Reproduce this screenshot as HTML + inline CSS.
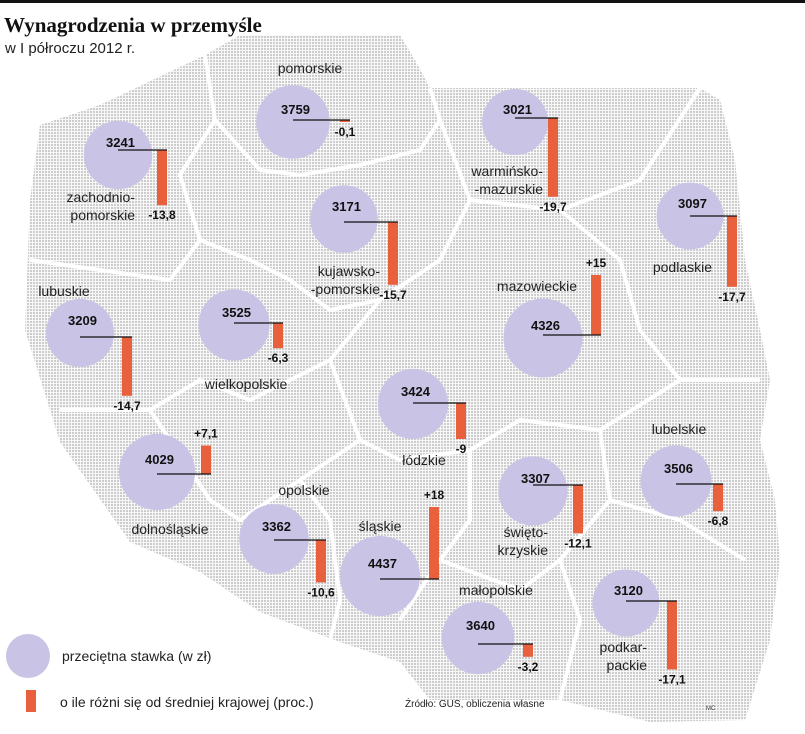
<!DOCTYPE html>
<html><head><meta charset="utf-8"><style>
body{margin:0;background:#fff;}
svg{display:block;font-family:"Liberation Sans","DejaVu Sans",sans-serif;}
</style></head><body>
<svg id="chart" width="805" height="734" viewBox="0 0 805 734">
<defs>
<pattern id="dots" width="3" height="3" patternUnits="userSpaceOnUse"><rect width="3" height="3" fill="#f7f7f7"/><rect width="2" height="2" fill="#cdcdcd"/></pattern>
</defs>
<rect x="0" y="0" width="805" height="3" fill="#111"/>
<text x="4" y="32" font-family="Liberation Serif,serif" font-weight="bold" font-size="21" fill="#111">Wynagrodzenia w przemyśle</text>
<text x="5" y="53" font-size="15" fill="#222">w I półroczu 2012 r.</text>
<polygon fill="url(#dots)" points="40,125 100,105 205,55 240,35 400,35 415,60 430,88 700,88 720,100 735,160 745,260 760,330 770,380 760,440 775,500 780,560 770,640 745,720 650,722 560,700 430,700 400,662 340,642 260,612 200,572 130,542 60,442 25,330 30,200"/>
<g stroke="#fff" stroke-width="4" fill="none">
<polyline points="205,55 215,120 180,175 200,240 170,280"/>
<polyline points="215,120 260,170 300,175 360,165 420,150 440,120 430,88"/>
<polyline points="440,120 470,200 560,210 640,180 700,88"/>
<polyline points="470,200 440,260 380,300 330,310 290,280 250,260 200,240"/>
<polyline points="30,260 100,270 170,280"/>
<polyline points="60,410 150,410 200,380 250,400 330,360 380,300"/>
<polyline points="560,210 620,260 640,330 680,380 760,380"/>
<polyline points="330,360 360,440 400,460 470,450 520,420 600,430 680,380"/>
<polyline points="150,410 210,500 240,520 300,480 360,440"/>
<polyline points="300,480 330,520 340,600 330,640"/>
<polyline points="470,450 470,520 440,560 400,620"/>
<polyline points="600,430 610,500 560,560 520,590 440,560"/>
<polyline points="610,500 680,520 745,560"/>
<polyline points="560,560 580,620 560,700"/>
</g>
<g id="marks"></g>
<circle cx="28" cy="656" r="22" fill="#c9c3e6"/>
<text x="62" y="661" font-size="14" fill="#222">przeciętna stawka (w zł)</text>
<rect x="26" y="690" width="10" height="22" fill="#e8603c"/>
<text x="60" y="707" font-size="14" fill="#222">o ile różni się od średniej krajowej (proc.)</text>
<text x="405" y="707" font-size="10" fill="#222">Źródło: GUS, obliczenia własne</text>
<text x="706" y="710" font-size="6" fill="#444">MC</text>
</svg>
<script>
const regions=["zachodniopomorskie","pomorskie","warmińsko-mazurskie","podlaskie","kujawsko-pomorskie","mazowieckie","lubuskie","wielkopolskie","łódzkie","dolnośląskie","opolskie","śląskie","świętokrzyskie","lubelskie","małopolskie","podkarpackie"];
const wages=[3241,3759,3021,3097,3171,4326,3209,3525,3424,4029,3362,4437,3307,3506,3640,3120];
const diffs=[-13.8,-0.1,-19.7,-17.7,-15.7,15,-14.7,-6.3,-9,7.1,-10.6,18,-12.1,-6.8,-3.2,-17.1];
const diffLabels=["-13,8","-0,1","-19,7","-17,7","-15,7","+15","-14,7","-6,3","-9","+7,1","-10,6","+18","-12,1","-6,8","-3,2","-17,1"];
const layout=[
 {cx:118,cy:155,ly:150,bx:157,lab:["zachodnio-","pomorskie"],tx:135,ty:202,anc:"end"},
 {cx:293,cy:122,ly:120,bx:340,lab:["pomorskie"],tx:310,ty:73,anc:"middle"},
 {cx:515,cy:122,ly:118,bx:548,lab:["warmińsko-","-mazurskie"],tx:543,ty:176,anc:"end"},
 {cx:690,cy:216,ly:216,bx:727,lab:["podlaskie"],tx:712,ty:272,anc:"end"},
 {cx:344,cy:219,ly:222,bx:388,lab:["kujawsko-","-pomorskie"],tx:380,ty:276,anc:"end"},
 {cx:543,cy:338,ly:335,bx:591,lab:["mazowieckie"],tx:537,ty:291,anc:"middle"},
 {cx:80,cy:333,ly:337,bx:122,lab:["lubuskie"],tx:64,ty:296,anc:"middle"},
 {cx:234,cy:325,ly:323,bx:273,lab:["wielkopolskie"],tx:246,ty:389,anc:"middle"},
 {cx:413,cy:404,ly:403,bx:456,lab:["łódzkie"],tx:424,ty:465,anc:"middle"},
 {cx:157,cy:472,ly:474,bx:201,lab:["dolnośląskie"],tx:170,ty:534,anc:"middle"},
 {cx:274,cy:539,ly:540,bx:316,lab:["opolskie"],tx:304,ty:495,anc:"middle"},
 {cx:380,cy:576,ly:579,bx:429,lab:["śląskie"],tx:380,ty:531,anc:"middle"},
 {cx:533,cy:491,ly:485,bx:573,lab:["święto-","krzyskie"],tx:548,ty:537,anc:"end"},
 {cx:676,cy:481,ly:484,bx:713,lab:["lubelskie"],tx:679,ty:434,anc:"middle"},
 {cx:478,cy:638,ly:644,bx:523,lab:["małopolskie"],tx:496,ty:595,anc:"middle"},
 {cx:626,cy:603,ly:601,bx:667,lab:["podkar-","packie"],tx:647,ty:652,anc:"end"}
];
const NS="http://www.w3.org/2000/svg";
const g=document.getElementById("marks");
const yScale=d=>d*4;
const rScale=v=>0.6*Math.sqrt(v);
function mk(t,a){const e=document.createElementNS(NS,t);for(const k in a)e.setAttribute(k,a[k]);g.appendChild(e);return e;}
regions.forEach((name,i)=>{
 const L=layout[i],v=wages[i],d=diffs[i];
 const c=mk("circle",{cx:L.cx,cy:L.cy,r:rScale(v).toFixed(1),fill:"#c9c3e6"});
 
 
 const h=Math.max(Math.abs(yScale(d)),2);
 const top=d>=0?L.ly-h:L.ly;
 const b=mk("rect",{x:L.bx,y:top,width:10,height:h,fill:"#e8603c"});
 
 
 const ln=mk("line",{x1:L.cx,y1:L.ly,x2:L.bx+10,y2:L.ly,stroke:"#111","stroke-width":1.2});
 
 
 const wt=mk("text",{x:L.cx-12,y:L.cy-8,"font-size":13,"font-weight":"bold",fill:"#111"});
 wt.textContent=v;
 
 
 const dy=d>=0?L.ly-h-8:L.ly+h+14;
 const dt=mk("text",{x:L.bx+5,y:dy,"font-size":12,"font-weight":"bold",fill:"#111","text-anchor":"middle"});
 dt.textContent=diffLabels[i];
 
 
 L.lab.forEach((s,j)=>{
  const t=mk("text",{x:L.tx,y:L.ty+j*18,"font-size":14,fill:"#222","text-anchor":L.anc});
  t.textContent=s;
  
  
 });
});
</script>
</body></html>
